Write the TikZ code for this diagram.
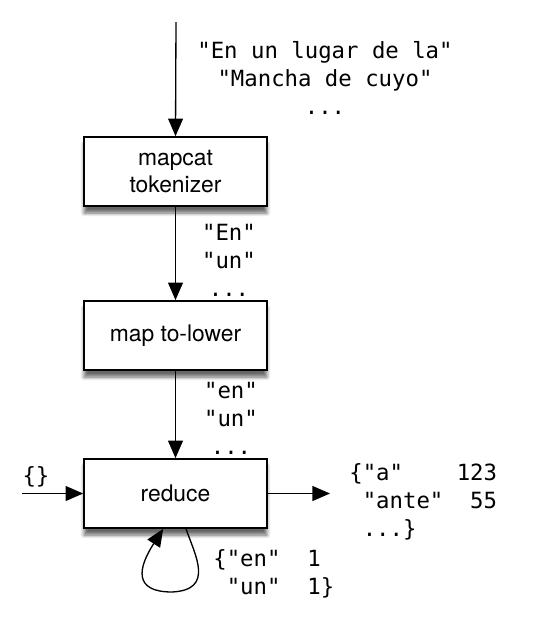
\documentclass[tikz,border=0pt]{standalone}
\usepackage{fontspec}
\setmainfont{TeX Gyre Heros}
\setmonofont{DejaVu Sans Mono}
\usetikzlibrary{arrows.meta,shadows.blur}
\tikzset{
  stage/.style={draw, line width=1pt, fill=white, minimum width=3.66cm, minimum height=1.38cm,
    inner sep=0pt, align=center, font=\fontsize{13}{15.5}\selectfont,
    blur shadow={shadow xshift=0pt, shadow yshift=-4pt, shadow blur steps=8, shadow opacity=60}},
  flow/.style={line width=0.75pt, -{Triangle[length=10pt,width=8.5pt]}},
  data/.style={align=center, inner sep=0pt, font=\ttfamily\fontsize{12.7}{15.9}\selectfont}
}

\begin{document}
\begin{tikzpicture}[x=0.02cm, y=-0.02cm]
		%%%%% START %%%%%
		\useasboundingbox (0,0) rectangle (536,620);
		
		\node[stage] (tokenizer) at (175.5,171.5) {mapcat\\tokenizer};
		\node[stage] (lower) at (175.5,335.5) {map to-lower};
		\node[stage] (reduce) at (175.5,493.5) {reduce};
		
		\coordinate (source) at (176,22);
		\coordinate (init) at (22,493.5);
		\coordinate (result) at (330,493.5);
		\coordinate (loopbottom) at (172,592);
		
		\draw[flow] (source) -- (tokenizer.north);
		\draw[flow] (tokenizer) -- (lower);
		\draw[flow] (lower) -- (reduce);
		\draw[flow] (init) -- (reduce);
		\draw[flow] (reduce) -- (result);
		\draw[flow] ([xshift=6pt]reduce.south) .. controls (195,555) and (215,590) .. (loopbottom)
			.. controls (133,592) and (138,568) .. ([xshift=-7pt]reduce.south);
		
		\node[data] (lines) at (325,78) {"En un lugar de la"\\"Mancha de cuyo"\\...};
		\node[data] (tokens) at (229,260) {"En"\\"un"\\...};
		\node[data] (lowered) at (231,418) {"en"\\"un"\\...};
		\node[data] (empty) at (36,477) {\{\}};
		\node[data, align=left, anchor=west] (counts) at (349,502)
			{\{"a"~~~~123\\\hphantom{\{}"ante"~~55\\\hphantom{\{}...\}};
		\node[data, align=left, anchor=west] (pairs) at (213,574)
			{\{"en"~~1\\\hphantom{\{}"un"~~1\}};
		%%%%% END %%%%%
\end{tikzpicture}
\end{document}
